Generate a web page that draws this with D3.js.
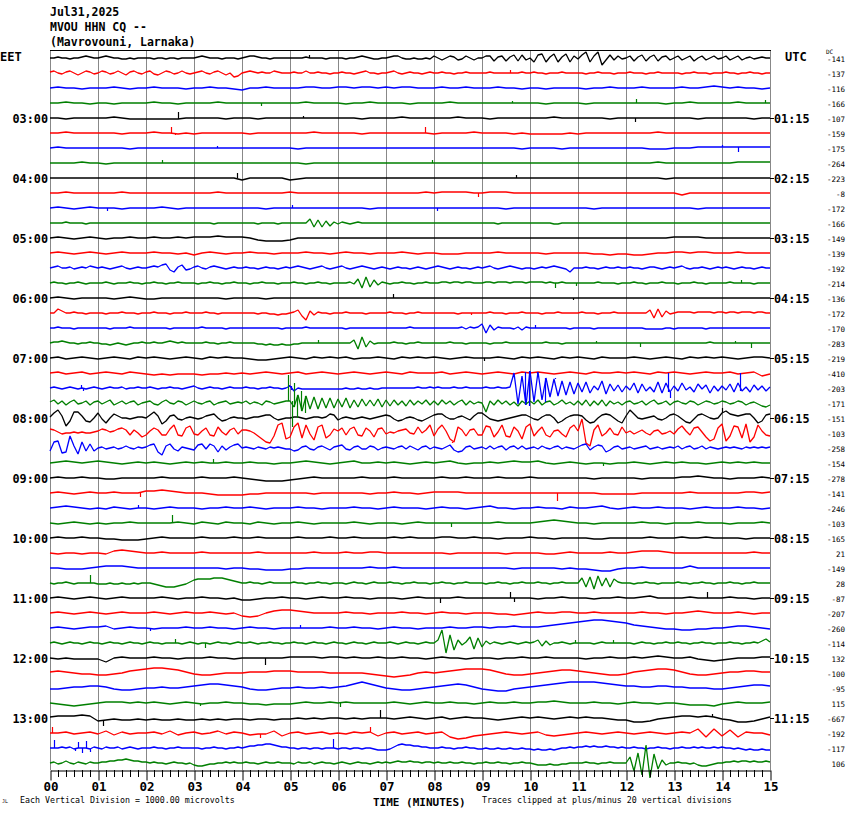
<!DOCTYPE html>
<html><head><meta charset="utf-8">
<script src="https://cdn.jsdelivr.net/npm/d3@7"></script>
<style>body{margin:0;background:#fff;} svg{display:block;}</style>
</head><body>
<svg id="c" width="850" height="814"></svg>
<script>
// ---------------- data ----------------
const titleLines = ["Jul31,2025", "MVOU HHN CQ --", "(Mavrovouni, Larnaka)"];
const leftZone = "EET";
const rightZone = "UTC";
const leftHours = ["03:00","04:00","05:00","06:00","07:00","08:00","09:00","10:00","11:00","12:00","13:00"];
const rightHours = ["01:15","02:15","03:15","04:15","05:15","06:15","07:15","08:15","09:15","10:15","11:15"];
const dcValues = [-141,-137,-116,-166,-107,-159,-175,-264,-223,-8,-172,-166,-149,-139,-192,-214,
  -136,-172,-170,-283,-219,-410,-203,-171,-151,-103,-258,-154,-278,-141,-246,-103,
  -165,21,-149,28,-87,-207,-260,-114,132,-100,-95,115,-667,-192,-117,106];
const minuteTicks = [0,1,2,3,4,5,6,7,8,9,10,11,12,13,14,15];
const traceColors = ["#000000","#ff0000","#0000ff","#007f00"];
const footerLeft = "Each Vertical Division = 1000.00 microvolts";
const footerRight = "Traces clipped at plus/minus 20 vertical divisions";
const axisTitle = "TIME (MINUTES)";

// Trace samples: each character is one sample (V = 0; each step = 1/15 division = 66.7 uV, up positive),
// samples spread evenly over the 15 minutes of the line.
const traceSamples = [
"VVWVVUVVWXWV VWXWVVUUVUVV VVUVVUVVUVVV VWXWVVVUVVVU VWXXWVVUVVVV VVVVWVVVVUVV VVUVVWXWVUUV VWXXVUUVUUVU XVTVXWTUXVTV VXXSWXSWYSYT VRYZRWZRWZRX UYbRXbOTYTXU VXSWYSWYSWXT VXTVXSVXTVXU VXTVXTVWUVWV V",
"WXVUWXVTVXWU VXWUVXVTWXVU WXUTVXWUVXVU VWXVUWXVTVRS VWXWVWVVXWVV VWVVXVVWVVUV VWVVUVWXVVUV VWXVUVWVVUVW VVWVVUVVWVVV VVWVVVVVVVWV VWVVUVVVWVVV VVUVVWVVVUVV VWVVVUVVWVVV VVUVVWVVVUVV VWVVUVVWVVUV V",
"VWVVUV VVWVUV VWVVVU VVWVVU TVVWVV VVWWVV WWVWWV WVWWVV VWVVWV VVWVVU VVUVVV VUVVWV VVWVVV VWVVWX WVWVVU V",
"VVWVVU VVUVVV VWVVUV VVVWVV VVVVVV VVWVVV VUVVWV VVVUVV VVWVVV VVVVVV VVUVVV VUVVVV VVVVVU VVWVVV VVWVVV V",
"VVUVVV VVWVUU UUUUUV VVVVUV VVUVVV VVVVVV VVVUVV VVWVVV VVVWVV VUVVVV VVVWVV VVVVUV VVVVVV VVVUVV VVVVUV V",
"VVWVVV VVVUVV VWVVUV UVVVVV VUVVVV VVVWVV VVVUVV VVVVVV UVVVVW VVVVUV UUUUUV UVVVVV VVVVWV VVVVVV VVVVVV V",
"VWVVVV VVVVUV VVVVVV VVVVVV VVVVVV VUVVVV VVVVVV VVVVVV VVVVVV VVVVVU VVVVUV VVVVVV VVVUUU VVVWWW WWWWWW W",
"VVVVWV VUVVVV VVVVVV VVVVVV VVVVVV VVUVVV VVVVVV VVVVVV VVVVVV VVVVVV VVVVVV VVVVVV VVVVWV VVVVVV VVWWWW W",
"VVVVVV VVVVVV VVVVVV VVVVVV TVVVVV TUVVVV VVVVVV VVVVVV VVVVVV VVVVVV VVVVVV VVVVVV VVVVVU VVVVVV VVVVVV V",
"VVWVVV VVVWVV VVVVVV VVVWVV VVVVVV WVVVVV VVVVVV VVVVVW VWWWWV VWWWVV VVVVVV VVVVVV VVVVVV VTVVVV VVVVVV V",
"VWVUVW VVVUVV VVWVUV VVVVVV VVVUVV VVVVVV VVVVUV VVVVVV VVVVVV VVVUVV VVVVVV VVUVVV VVVVVV VVVUVV VVVVVV V",
"VVVVWVVVVUVV VVVVVVVVVVVV VVVVVVVVVVVV VVVVVUVVVVVV VVVVUVVVVUVV VVVVVZRYRXSW UWVUVWVVVVVV VVVVVVVVVVVV VVVVVVVVVVVV VVVVUVVVVVVV VVVVVVUUVVVV VVVVVVVVVVVV VVVVVVVVVVVV VVVVVVVVVVVV VVVVVVVVVVVV V",
"VWVUVW VUVVWV VWVVWV WWWXWW WVTSSS TVVVVV VVVVVV VVVVVV VVVVVV VVVVVV VVVVVV VVVVVV VVVVVV WWWWVV VVVVVV V",
"VWVUVW VUVWVV VWVVUV TVWVUV VWVVUV VVWVVU VWVVUV VVWVUV VUUUVV VVWVVV VVUVVV VVUUTU UTTUVV WWVWWV VVWVVV V",
"VWXVVWUVWVXW VWVUVWXVUVWV VWXWYZTRWYTU WXVUWXWVUVWV VWVVUVWVVUVW VWXWVUVWXVUV WXVUVWXWVUVW VUVWVVUVWVUV WXWVUVWVVUVW VWXVUVWXWVUV VUVWVWXWVURV VVWVVUVWVVWV VWVVUVWWVUVW VWXVUVVWVUVW VWVUVWVVUVWV V",
"VWVVUVVWVUVV VVWVUVVVWVVU VVWVVUVVWVVV VUVVWVVUVVWV VVUVVWVVVUVV VWVVUVVWVVUV VVVWUZQbRYTW VUVVWVVUVVWV VVWWVWWVWWVV VWWVWWWVWWWV WWWWVWVVWVVV VVVVVWVVVVUV VVWVVUVVVWVV VUVVVWVVUVVV VVWVVVVVUVVV V",
"VWVUVV VVUVWV UUVVVV VVVVUV VVVUVV VVVVVV VVVVVV VVVVVV VVVVVV VVVVVV VVVVVV VVVVVV VVVVVV VVVVVV VVVVVV V",
"VVZXVVWVVUVV VVUVVVWVVVUV VVWVVVUVVVWV VVVWVVUVVVVV VVVVUVVUUTUU VWYSOXTWVVUV VVWVVVVUVVVV VWVVVUVVWVVV VVVVVVUVVVVV VVWVVVUVVVWV VVVUVVVWVVVV VWVVVUVVVWVV VVVVVVYQZRXU VWWWWVWWWWVW WVWWVWWWVWWV V",
"VVWVVVUVVVVV VVVUVVVVWVVV VVVVVVUVVVVV VVWVVVVVUVVV VVVVVVVVVVUV VVVVWVVVVVVV VVUVVVVVVVVV VVVVVVWVVVVV VVVVVVVWUWVW ZQYTWVVVUWTW VVVVVVVVVVUV VVVVUVVVVVVV VVVVVUUUUUVV UVVVVVVVUVVV VVVVVVVVVVVV V",
"VWWXWVVUVVWV VUUTUVUTUVVW VVWVVWXWVWVV VVVWVVUVVWVV VVVVUUTUTTUT TUUVVVVVVVVV VVVVYPbRXUVV VVWVVUVVWVVV VVVVWVVVUVVV VVUVVVWVVVVV VVVVWVVVUVVV VVVVVVVVVVVV VVVVVVVVVVVV VVVVVVVVVWVV VVVVVVVVVVVV V",
"VWUVWV UVWVUW VWVUVW VUWVWV VUTTUV WVUWVW VWUVVW VUWVWV WVUVWV VVWVUW VWVUWV WVUWVV VWVUVW VUWVWV WVUVWW V",
"VWUVWU VWVUWV UTUTUU UTUUVU VUVWVU VWUVWV UVWVUV WVUWVV VWUVWV UVWVUW VWVUVW VUWVVW VWVUWV WVUVWV VWUVWS U",
"VWVUVWVUVUVW VUVWVVWUVVWV VWVUVVWVVUVW XVUVWVVUVWVV VWVVUVVWVVUV XSVUUUUUUUUU UUVUUVUUVUUV VVVVVVVVWVVW VWVVVWVVWVVV VWVVWVVWkFhE mHlJfMeNcObP aRbQXTcPZSYR XTaQZSWRbQaR XSaTWRZUYQXS XTZRaSWRYTXS W",
"WYUXTWYUVXTW XUWYTVXUWXTV WXUTWYVUXWTV XVUWXTVWXUVW VXUWVTXWUVWX XRdNcPbPaQaQ ZRaQYRZSYSZR YSYTXSYTXUYT XTYUXTWYTXUW VMXTYUXTWSXU XUYTWXTVYUWT XTYSXTYSXUWT WXUVXTWYUVXT WXVUXWTVXWUV XWUVXWTVWUSR T",
"WadXNSbbXSRV aUQVZXVVUVWW VYbXPSXYUTVW VUVXYZVSTVWV VUVWWXYYVTUV VWWVUVWWVWZY TVWVUVWVUVWX YXUSTVWVTSUW YZZWUUWXVTXa aXUTSTUVWXYY WUTWYYVQSVXY YXTQRVYZYVSQ XdZVUVWXUTVY ZXURQUYZXVUV acZYXYZZVQSY Z",
"ZYWUVVWVWVVW XZYWXZaYTYVR TXaYTTZdTSac UTXaTSbWTYaU YYXVSPMLSdfP RbfQdUObdQTZ XaTZbTSaXRZa UWVXYZVUbVYd SZdXPMbYSYZT TcbRWdSRbXPb eSXbTRXYURad XjLIYdSVaUTb VXUWYVTXYUVX UZcXTabWRNPa eNScbQeMRdXT S",
"SbcQRhXPbSZS VWUVWUVXVUWV WYZROXZUSWVU TYZUZXRXTWYZ VWVUWVUWVWVU USTWXUTWXVTW XYUTWXUUXWTV WVUWXUXVTWXU WVUWYTRSWXUV WUXUWXTWXUXU VWUXVUWXUWVU WYZTWYXRTWXU VWUVWXUVWUVW VXUWXUVXUWVU VWVWVUWVWVWV W",
"VWXWVW XWVUVW VWVUVW VWVVWV VWVVUV VWXWVU VWXVVW VWVUVW VWXVUV VWVWXW WXVUVW VUVVUV VWVUVW VWVVUV WVWVWV V",
"VWVVWV VUUVVV VVWVVV VWVVVW VUTSSS TUVWVV VVVWVV VWVVVV VWVVWV VVWVVV WVVVVV VVUVVV VVUVVV VWWXWV VUVVVW V",
"VWVUVW VVWVVV XXYXWV VVUTTT TUUVVV VVVUVV VVVVUV VWVVUV WWWWVV VVVVVV VVVVVV VVVUUU UUVVVV VVWVVV VVVWWV W",
"VWXWVU VUWVUV VUVWVV VUVVWV VWVUVV VWVVUV VVWVVU VWVVVU VWVVUV WXVVUV VWVVUW VVWXVU VWVVWV VVUVWV VVWVVU V",
"VUVWVU VUVVWV VVVVWV UWVUWV VUWVUV VWVUVV VVWVUV VVUVWV VVVVVV VVWVVV VWXYXW VVUVVV VVWVVU VVVWVV VUVVVW V",
"VWVVWV VUUTTT UVWVVV VWVVVW VVWVVV VWVVVW VVWVVV VWVWVV VWWVVW VVUVVV WVVUVV VVUUVV VVVWVV VWVVWV VVVUVV V",
"VUVVUV VUXYXW VVWVVV VWVVVV VVWVVV VVVWVV VWVVWW VVVVVV VVUVVV VVVUVV VVUUVW VVVVWV VWXXXW VVVVVV VVVVWV V",
"VVUUUV WXXXWV VVVVVV VVVVUV VUUTTT UUVVVV VVVVWV VWVVVV VVVVVV VVVVUV VVVVUV UUTSSU VVWVVV VVXVVV VVVVVV V",
"VUVVWVUVVVVV UUUVUUVUUVUV VVUTSRRRSTUW YZZZZaaaZYXW VVWVVUVWVVVV VWVVUVVWVVUV VVUVWVVUVWVV VWVVUVVWVVVU VVWVVUVVWVVV VUVVWVVUVVWV VVWVVUVVWVVV VaRbPcSaRZWV VVUVVWVVUVVV VWVVUVVWVVUV VVWVVUVVWVVV V",
"VWVUVW VUVWVV VVWVUV VWVVUV TTUVVW VVUVWV VWVVUV VVUVWV VVVWVV VVVVVV VUVVWV VVUVVW VVWXVV VVWVVV VWVVUV V",
"VWVUVW VUVWVV VWVUVW VVWVUV SRSVXY YXWVVV VWVVUV VVWVVU VWVVUV VVUUTU VWVVWW VVWVVV VVWVVU VVWXWV VVWVUV V",
"VWVUVW WXUVWV VUVVVW VVWVVU VWVVUV VVVVVW VVWVVU VWVVUV VVWVVW WVWWXW WWXYZa bcddcb aYXWVU UTTUUV VWXXWV U",
"VWVUVWVVUVWV VUVWVVUVWVVU VWVVUVVVVUVW VUVVUVWVVUVW VVWVUVVWVVUV VWVVUVWVVUVW VVUVWVVUVWVV VWVUVWVVUVWV VYiLdOYTWbPa RXUWVUVWVUVW VWYSXTVVWVUV VVVVUVWVVVVV VVUVWVVUVVWV VWVVUVVWVVUV VVWVVUVVWVXZ W",
"VUVUUU URVWVV VWVVUV VVWVVU VVVVVV WWWWVW WVWVVW VVWVVU VWVVUV VVUVVW VVWVVV VUVVWV VWVWXW VVWUTS TUVVVW W",
"WXWVUU TTUVXY ZaaZYW UTTUVV VWWWXX XWWWWV VVVVUT SRSTVW VWXYZZ ZYWUTT UVWXYY XWVUTT UWXYZZ YWUTTU VWWXXW W",
"UUVWWX XWUTTU VVWVVW XYZZYX WUTTUV VWVVWV WXZbZX VUTTUV WXYZYW UTSSUV WXYZab bbbaZY XXWWXX WWVVVU UVWXYY X",
"VUTSTU VWWWVW VWVUVW VUVVWV VUUTUU UVWVVW VWVVVV VWVUVW VVWVVU VWVVWV VWWXWV VVWVVU VWVVUV VUTTTS UVWVVV W",
"WXXXYX STUTTU TUTTUT TUTUTU UTUUTU UVUVUV VUVUVV VUVWVU VWUVWV VUTUVW VWVUVW VWVVUT TRRSUV WXXWXW UTRRSU W",
"VVWUVW UXTWUV VWUXTV WUVXUW VTUUXS VWUVWU VUWVWS VWUVWU VWRPQS TUVWVU VWTSTU VWVUVW VUVWVU VWVZRZ SYRWVV T",
"VVVWVWUVVVUW VUWVVWUVWVUV VVWVVUVVWVVV VVUVVWVVUVVW VWXXYYZZYXWW VVUVVUVVUVVV UVVUVVUVVUTT TUWYZYYXXWWV VVWVVUVVWVVU UVUUVUUVUUVU UTUTTUTUVVWV WWXWXWWXWWVW VVWVVUVVWVVU VVWVVWVWVVWV WVVUVUTUTTUT T",
"VWUVXVUWVUWV VWWXXYYZYXXW WVWVVUVWVVUV TSSTUUVVWVWV VWVVUVWVVWVV VUWVVWUVWVVU VWVUVWVVUVWV WVWXWWXWWVWW VWVVWVVWVVUV VWVVWVVUVVWV VUTTTUTTUUVV VVWVVUVVWVVV VbNfJnGePYTV VWVVUVTSSTUV VWWXWXXWXWWX W"
];

// Sharp spikes: [trace index, minute, tip height in 1/15 divisions above the trace's zero line (up +)]
const spikes = [
 [0,5.40,3],[1,9.58,3],
 [3,4.40,-3],[3,9.62,2],[3,12.21,4],[3,14.90,3],
 [4,2.67,6],[4,5.27,2],[4,12.19,-4],
 [5,2.52,6],[5,2.60,-2],[5,7.81,6],
 [6,3.48,2],[6,14.00,3],[6,14.33,-4],
 [7,2.33,3],[7,7.96,3],
 [8,3.90,5],[8,3.94,-2],[8,9.71,3],
 [9,8.92,-4],
 [10,1.19,-3],[10,5.04,3],[10,8.06,-3],
 [15,10.52,-5],[15,10.96,-3],[15,14.40,3],
 [16,7.15,4],[16,10.90,-2],
 [17,8.77,-2],
 [18,10.10,3],
 [19,5.58,3],[19,11.38,2],[19,12.29,-4],[19,14.27,2],[19,14.60,-5],
 [20,9.04,-3],
 [22,0.65,3],[22,0.69,-3],[22,4.98,3],[22,5.02,-2],
 [22,9.90,16],[22,9.98,-18],[22,10.15,14],[22,10.31,-14],[22,10.52,10],
 [22,12.88,15],[22,12.92,-10],[22,14.38,15],
 [23,4.96,28],[23,5.04,-24],[23,5.08,20],[23,5.15,-15],[23,5.23,12],[23,5.31,-10],
 [24,14.00,10],
 [25,8.38,-10],
 [27,3.40,4],[27,11.52,-3],
 [29,1.88,-4],[29,10.56,-8],
 [30,1.83,3],
 [31,2.54,8],[31,8.35,-4],
 [35,0.83,8],[35,3.58,5],
 [36,8.13,-5],[36,9.58,6],[36,9.67,-4],[36,13.69,6],
 [38,2.08,-3],[38,5.21,3],
 [39,2.60,4],[39,3.23,-5],[39,10.94,3],[39,11.73,3],
 [40,4.48,-7],
 [43,3.13,-3],[43,6.04,-4],
 [44,1.10,-8],[44,6.88,8],[44,13.79,4],
 [45,0.04,6],[45,4.38,-5],[45,6.67,6],
 [46,0.08,8],[46,0.52,-3],[46,0.58,6],[46,0.67,-5],[46,0.75,7],[46,0.83,-4],[46,5.90,9]
];

// ---------------- drawing ----------------
const ALPH = "0123456789ABCDEFGHIJKLMNOPQRSTUVWXYZabcdefghijklmnopqrstuvwxyz";
const UV_PER_STEP = 1000 / 15;
const decode = s => s.replace(/ /g, "").split("").map(c => (ALPH.indexOf(c) - 31) * UV_PER_STEP);
const traces = traceSamples.map(decode);

const svg = d3.select("#c");
const W = 850, H = 814;
svg.append("rect").attr("width", W).attr("height", H).attr("fill", "#fff");

const x = d3.scaleLinear().domain([0, 15]).range([50, 770]);
const row = d3.scaleLinear().domain([0, 47]).range([58, 763]);
const amp = d3.scaleLinear().domain([0, 1000]).range([0, -15]);
const mono = "'DejaVu Sans Mono', 'Liberation Mono', monospace";

// vertical minute grid
svg.append("g").selectAll("line").data(minuteTicks).join("line")
  .attr("x1", d => x(d) + 0.5).attr("x2", d => x(d) + 0.5)
  .attr("y1", 50).attr("y2", 770)
  .attr("stroke", "#888").attr("stroke-width", 1);
// top border
svg.append("line").attr("x1", x(0)).attr("x2", x(15) + 1).attr("y1", 50.5).attr("y2", 50.5)
  .attr("stroke", "#000").attr("stroke-width", 1);

// traces
const gT = svg.append("g");
traces.forEach((vals, i) => {
  const n = vals.length;
  const line = d3.line()
    .x((d, j) => x(j * 15 / (n - 1)))
    .y(d => row(i) + amp(d));
  gT.append("path").datum(vals)
    .attr("d", line)
    .attr("fill", "none")
    .attr("stroke", traceColors[i % 4])
    .attr("stroke-width", 1.3)
    .attr("stroke-linejoin", "bevel");
});

// spikes (from the trace to the tip)
const UV = v => v * UV_PER_STEP;
const baseAt = d => {
  const vals = traces[d[0]], n = vals.length;
  return vals[Math.round(d[1] * (n - 1) / 15)];
};
gT.append("g").selectAll("line").data(spikes).join("line")
  .attr("x1", d => Math.round(x(d[1])) + 0.5).attr("x2", d => Math.round(x(d[1])) + 0.5)
  .attr("y1", d => row(d[0]) + amp(baseAt(d)))
  .attr("y2", d => row(d[0]) + amp(UV(d[2])))
  .attr("stroke", d => traceColors[d[0] % 4]).attr("stroke-width", 1.2);

// bottom axis
const axis = d3.axisBottom(x).tickValues(minuteTicks).tickSize(10).tickSizeOuter(0)
  .tickFormat(d => d3.format("02d")(d));
const gA = svg.append("g").attr("transform", "translate(0.5,770.5)").call(axis);
gA.select(".domain").attr("stroke", "#000");
gA.selectAll(".tick line").attr("stroke", "#000");
gA.selectAll(".tick text").attr("font-family", mono).attr("font-weight", "bold")
  .attr("font-size", "12.5px").attr("fill", "#000").attr("dy", "0").attr("y", 20.5);
const minor = d3.range(0, 15 * 6 + 1).map(k => k / 6).filter(v => Math.abs(v - Math.round(v)) > 1e-6);
svg.append("g").selectAll("line").data(minor).join("line")
  .attr("x1", d => Math.round(x(d)) + 0.5).attr("x2", d => Math.round(x(d)) + 0.5)
  .attr("y1", 770).attr("y2", 777).attr("stroke", "#000");

// title
svg.append("g").selectAll("text").data(titleLines).join("text")
  .attr("x", 50).attr("y", (d, i) => 16 + i * 15)
  .attr("font-family", mono).attr("font-weight", "bold").attr("font-size", "11.5px")
  .text(d => d);

// time zone labels
svg.append("text").attr("x", 0).attr("y", 61).attr("font-family", mono).attr("font-weight", "bold")
  .attr("font-size", "12px").text(leftZone);
svg.append("text").attr("x", 785).attr("y", 61).attr("font-family", mono).attr("font-weight", "bold")
  .attr("font-size", "12px").text(rightZone);

// hour labels
const hourRows = leftHours.map((h, k) => 4 + 4 * k);
svg.append("g").selectAll("text").data(leftHours).join("text")
  .attr("x", 48).attr("y", (d, k) => row(hourRows[k]) + 4.5).attr("text-anchor", "end")
  .attr("font-family", mono).attr("font-weight", "bold").attr("font-size", "11.8px").text(d => d);
svg.append("g").selectAll("text").data(rightHours).join("text")
  .attr("x", 774).attr("y", (d, k) => row(hourRows[k]) + 4.5)
  .attr("font-family", mono).attr("font-weight", "bold").attr("font-size", "11.8px").text(d => d);
svg.append("g").selectAll("line").data(hourRows).join("line")
  .attr("x1", 770).attr("x2", 774).attr("y1", d => row(d) + 0.5).attr("y2", d => row(d) + 0.5)
  .attr("stroke", "#000");

// DC offsets
svg.append("text").attr("x", 826).attr("y", 54).attr("font-family", mono).attr("font-size", "6px").text("DC");
svg.append("g").selectAll("text").data(dcValues).join("text")
  .attr("x", 845).attr("y", (d, i) => row(i) + 3.5).attr("text-anchor", "end")
  .attr("font-family", mono).attr("font-size", "7.5px").text(d => d);

// footer
svg.append("text").attr("x", 373).attr("y", 805.5).attr("font-family", mono).attr("font-weight", "bold")
  .attr("font-size", "11px").text(axisTitle);
svg.append("text").attr("x", 20).attr("y", 803).attr("font-family", mono)
  .attr("font-size", "8.3px").text(footerLeft);
svg.append("text").attr("x", 482).attr("y", 803).attr("font-family", mono)
  .attr("font-size", "8.3px").text(footerRight);
svg.append("text").attr("x", 2).attr("y", 803).attr("font-family", mono)
  .attr("font-size", "5px").text("JL");
</script>
</body></html>
